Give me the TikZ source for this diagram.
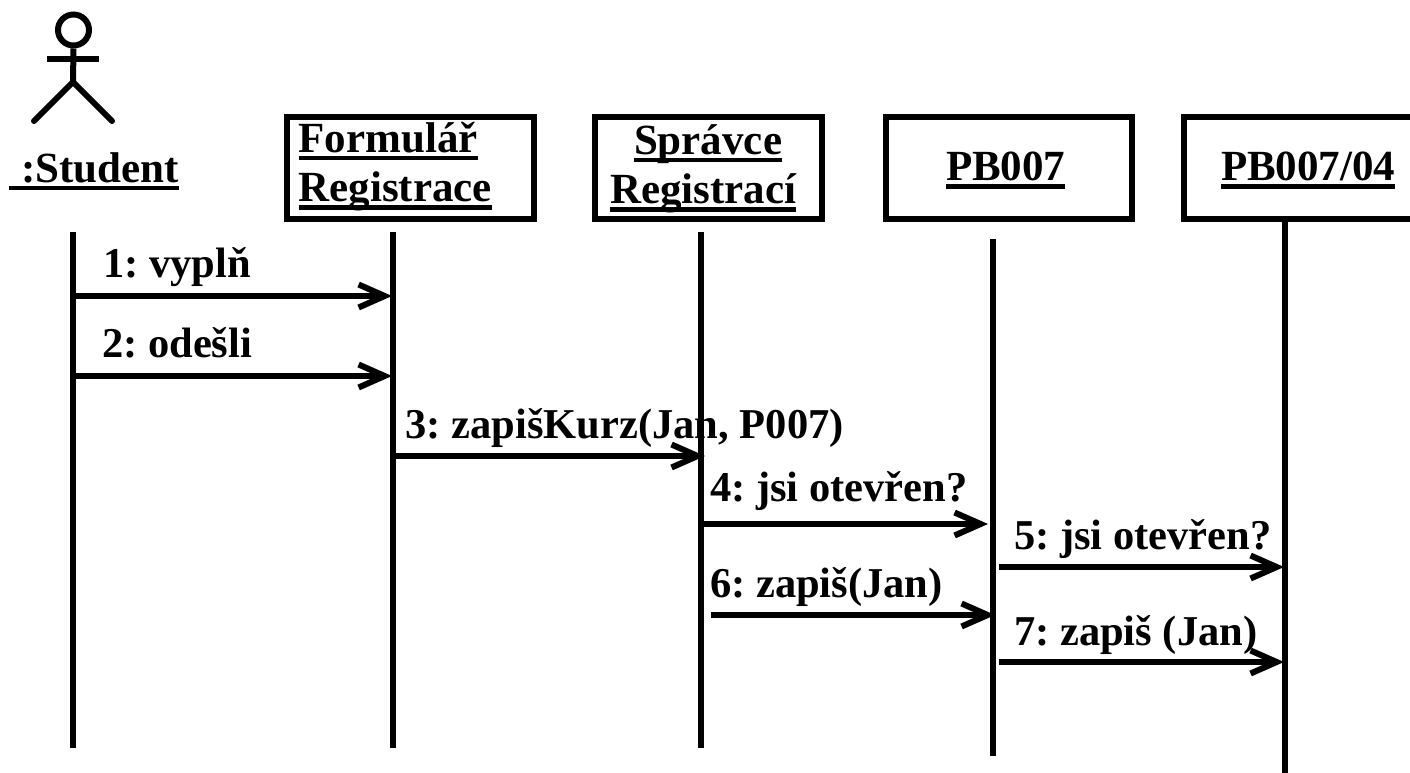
\documentclass[tikz,border=0pt]{standalone}
\usepackage{fontspec}
\setmainfont{Liberation Serif}
\usetikzlibrary{arrows.meta}
\frenchspacing
\newcommand\ulx[1]{\setbox0\hbox{#1}\rlap{\rule[-8pt]{\wd0}{4.5pt}}\box0}
\newcommand\txtfont{\fontsize{43}{49.7}\selectfont\bfseries}
\newcommand\msgfont{\fontsize{42.5}{49.7}\selectfont\bfseries}
\newcommand\vstrut[2]{\rule[-#2pt]{0pt}{\dimexpr#1pt+#2pt\relax}}
\tikzset{
 x=1pt,y=-1pt,
 objbox/.style={draw=black,line width=6pt,fill=white,minimum height=102pt,inner sep=0pt,align=left,font=\txtfont},
 lifeline/.style={line width=6pt,black},
 msg/.style={line width=6pt,black,-{Straight Barb[length=26pt,width=23pt,line width=6pt]}},
 lbl/.style={inner sep=0pt,anchor=base west,font=\msgfont},
 actor/.style={line width=6pt,black,line cap=round},
 actorbar/.style={line width=6pt,black},
}
\begin{document}
\begin{tikzpicture}
\useasboundingbox (0,0) rectangle (1410,773);
% actor
\node[draw=black,line width=6pt,circle,minimum size=31pt,inner sep=0pt] (head) at (73.5,30) {};
\coordinate (hip) at (73,82);
\coordinate (armL) at (47,59);
\coordinate (armR) at (99,59);
\coordinate (legL) at (34,121);
\coordinate (legR) at (112,121);
\draw[actorbar] (head.south) -- (hip);
\draw[actorbar] (armL) -- (armR);
\draw[actor] (legL) -- (hip) -- (legR);
\node[lbl,font=\txtfont] (student) at (9,182) {\ulx{\hbox to 12pt{}:Student}};
% objects
\node[objbox,minimum width=247pt,text width=247pt] (form) at (410,168) {\hspace*{12pt}\ulx{Formulář}\\\hspace*{12pt}\ulx{Registrace}\vstrut{0}{12.3}};
\node[objbox,minimum width=227pt,text width=227pt] (sprav) at (708.5,168) {\hspace*{39pt}\ulx{Správce}\vstrut{31.7}{0}\\\hspace*{15pt}\ulx{Registrací}};
\node[objbox,minimum width=246pt,text width=246pt] (pb) at (1009,168) {\hspace*{60pt}\ulx{PB007}\vstrut{33.4}{0}};
\node[objbox,minimum width=240pt,text width=240pt] (pbb) at (1304,168) {\hspace*{37pt}\ulx{PB007/04}\vstrut{33.4}{0}};
% lifelines
\coordinate (l1t) at (73,232);   \coordinate (l1b) at (73,748);
\coordinate (l2t) at (393,232);  \coordinate (l2b) at (393,748);
\coordinate (l3t) at (701,232);  \coordinate (l3b) at (701,748);
\coordinate (l4t) at (992.5,239);\coordinate (l4b) at (992.5,756);
\coordinate (l5b) at (1285,773);
\draw[lifeline] (l1t) -- (l1b);
\draw[lifeline] (l2t) -- (l2b);
\draw[lifeline] (l3t) -- (l3b);
\draw[lifeline] (l4t) -- (l4b);
\draw[lifeline] (pbb.south -| l5b) -- (l5b);
% messages
\coordinate (m1a) at (73,296);   \coordinate (m1b) at (392,296);
\coordinate (m2a) at (73,376);   \coordinate (m2b) at (392,376);
\coordinate (m3a) at (393,456);  \coordinate (m3b) at (705,456);
\coordinate (m4a) at (701,524);  \coordinate (m4b) at (988,524);
\coordinate (m5a) at (999,567);  \coordinate (m5b) at (1284,567);
\coordinate (m6a) at (711,615);  \coordinate (m6b) at (995,615);
\coordinate (m7a) at (999,662);  \coordinate (m7b) at (1284,662);
\draw[msg] (m1a) -- (m1b);
\draw[msg] (m2a) -- (m2b);
\draw[msg] (m3a) -- (m3b);
\draw[msg] (m4a) -- (m4b);
\draw[msg] (m5a) -- (m5b);
\draw[msg] (m6a) -- (m6b);
\draw[msg] (m7a) -- (m7b);
% labels
\node[lbl] (t1) at (103,277) {1: vyplň};
\node[lbl] (t2) at (102,357) {2: odešli};
\node[lbl] (t3) at (405.5,438) {3: zapišKurz(Jan, P007)};
\node[lbl] (t4) at (710,501) {4: jsi otevřen?};
\node[lbl] (t5) at (1014,549) {5: jsi otevřen?};
\node[lbl] (t6) at (710,597) {6: zapiš(Jan)};
\node[lbl] (t7) at (1014,645) {7: zapiš (Jan)};
\end{tikzpicture}
\end{document}
